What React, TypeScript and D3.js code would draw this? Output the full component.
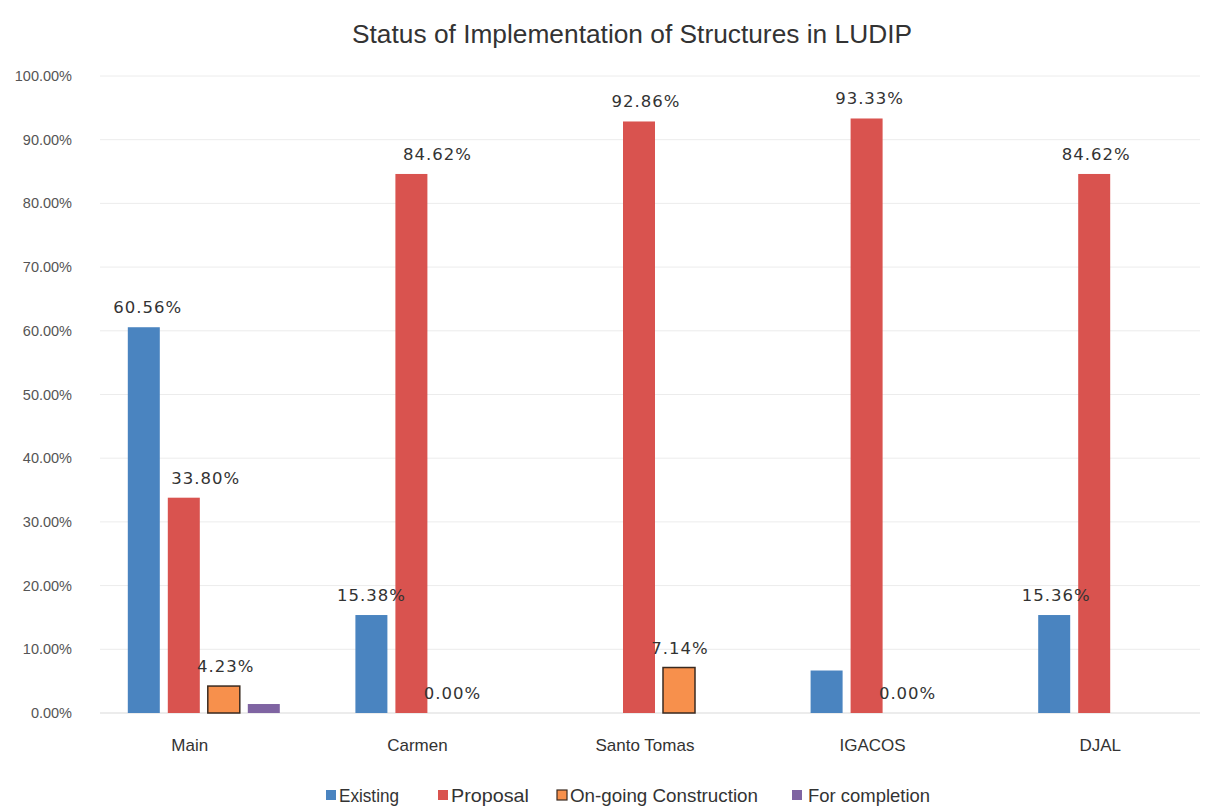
import React from "react";
import * as d3 from "d3";

const categories = ["Main", "Carmen", "Santo Tomas", "IGACOS", "DJAL"];
const seriesNames = ["Existing", "Proposal", "On-going Construction", "For completion"];
const existing = [0.6056, 0.1538, 0, 0.0667, 0.1538];
const proposal = [0.338, 0.8462, 0.9286, 0.9333, 0.8462];
const ongoing = [0.0423, 0, 0.0714, 0, 0];
const completion = [0.0141, 0, 0, 0, 0];
// data labels as printed (null = no label)
const existingLabels = ["60.56%", "15.38%", null, null, "15.36%"];
const proposalLabels = ["33.80%", "84.62%", "92.86%", "93.33%", "84.62%"];
const ongoingLabels = ["4.23%", "0.00%", "7.14%", "0.00%", null];
const completionLabels = [null, null, null, null, null];
const yTicks = [0, 0.1, 0.2, 0.3, 0.4, 0.5, 0.6, 0.7, 0.8, 0.9, 1.0];
const title = "Status of Implementation of Structures in LUDIP";

// styling / layout
const colors = ["#4a84c0", "#d9534f", "#f7904c", "#7f64a2"];
const strokes = ["none", "none", "#3a2a20", "none"];
const labelDx = [
  [4, 0, 0, 0, 2],
  [22, 26, 7, 3, 2],
  [2, 1, 1, 1, 0],
  [0, 0, 0, 0, 0],
];
const legendX = [326, 438, 557, 792];
const legendTextW = [60, 78, 188, 122];

const W = 1219;
const H = 809;

export default function App() {
  const y = d3.scaleLinear().domain([0, 1]).range([713, 76]);
  const x0 = d3.scaleBand().domain(categories).range([90, 1228]).paddingInner(0);
  const x1 = d3
    .scaleBand()
    .domain(seriesNames)
    .range([0, 160])
    .paddingInner(0.2)
    .paddingOuter(0.1);
  const groupOffset = (x0.bandwidth() - 160) / 2;
  const series = [existing, proposal, ongoing, completion];
  const labels = [existingLabels, proposalLabels, ongoingLabels, completionLabels];
  const fmt = d3.format(".2%");

  const sans = "'Liberation Sans', Arial, sans-serif";

  return (
    <svg width={W} height={H} style={{ position: "absolute", left: 0, top: 0, background: "#fff" }}>
      <rect x={0} y={0} width={W} height={H} fill="#fff" />
      <text
        x={632}
        y={43}
        textAnchor="middle"
        fontFamily={sans}
        fontSize={25}
        textLength={560}
        lengthAdjust="spacingAndGlyphs"
        fill="#333"
      >
        {title}
      </text>
      {yTicks.map((t) => (
        <g key={t}>
          <line x1={100} x2={1200} y1={y(t)} y2={y(t)} stroke={t === 0 ? "#d9d9d9" : "#ececec"} strokeWidth={1} />
          <text
            x={72}
            y={y(t)}
            dy="0.35em"
            textAnchor="end"
            fontFamily={sans}
            fontSize={14.5}
            fill="#555"
          >
            {fmt(t)}
          </text>
        </g>
      ))}
      {categories.map((c, i) => (
        <g key={c} transform={`translate(${(x0(c) ?? 0) + groupOffset},0)`}>
          {series.map((s, j) => {
            const v = s[i];
            const bx = x1(seriesNames[j]) ?? 0;
            const bw = x1.bandwidth();
            return v > 0 ? (
              <rect
                key={j}
                x={bx}
                y={y(v)}
                width={bw}
                height={y(0) - y(v)}
                fill={colors[j]}
                stroke={strokes[j]}
                strokeWidth={strokes[j] === "none" ? 0 : 1.5}
              />
            ) : null;
          })}
          {series.map((s, j) => {
            const lab = labels[j][i];
            if (!lab) return null;
            const v = s[i];
            const bx = (x1(seriesNames[j]) ?? 0) + x1.bandwidth() / 2;
            return (
              <text
                key={"l" + j}
                x={bx + labelDx[j][i]}
                y={y(v) - 14}
                textAnchor="middle"
                fontFamily="'DejaVu Sans', sans-serif"
                fontSize={16.5}
                letterSpacing={1}
                fill="#333"
              >
                {lab}
              </text>
            );
          })}
          <text x={80 - 14} y={751} textAnchor="middle" fontFamily={sans} fontSize={17} fill="#333">
            {c}
          </text>
        </g>
      ))}
      {seriesNames.map((n, j) => (
        <g key={n} transform={`translate(${legendX[j]},790)`}>
          <rect
            x={0}
            y={0}
            width={10}
            height={10}
            fill={colors[j]}
            stroke={j === 2 ? "#3a2a20" : "none"}
            strokeWidth={j === 2 ? 1.2 : 0}
          />
          <text
            x={j === 3 ? 16 : 13}
            y={12}
            fontFamily={sans}
            fontSize={19}
            textLength={legendTextW[j]}
            lengthAdjust="spacingAndGlyphs"
            fill="#333"
          >
            {n}
          </text>
        </g>
      ))}
    </svg>
  );
}
